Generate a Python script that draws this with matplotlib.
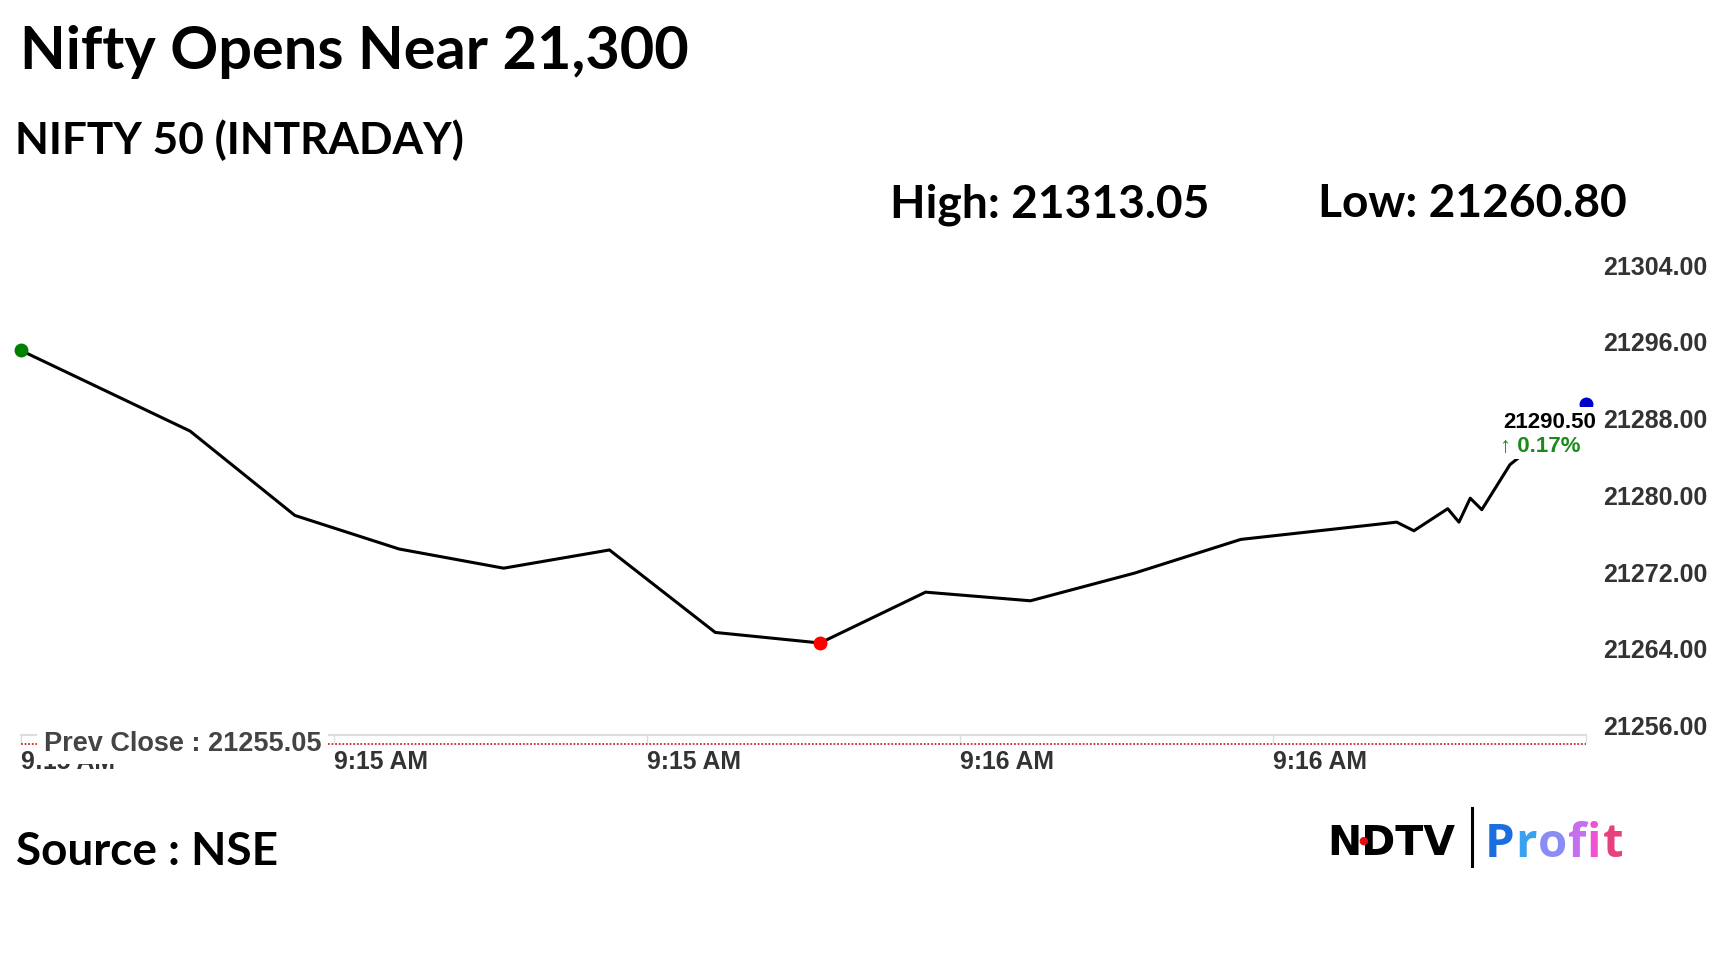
import matplotlib.pyplot as plt
from matplotlib.lines import Line2D

# intraday points (x in tick-interval units)
t = [0.0, 0.540, 0.875, 1.208, 1.542, 1.880, 2.218, 2.553, 2.890, 3.225,
     3.559, 3.897, 4.395, 4.450, 4.558, 4.594, 4.630, 4.667, 4.757, 5.0]
price = [21296.1, 21287.7, 21278.9, 21275.4, 21273.4, 21275.3, 21266.7, 21265.6,
         21270.9, 21270.0, 21272.9, 21276.4, 21278.2, 21277.3, 21279.6, 21278.2,
         21280.7, 21279.5, 21284.2, 21290.5]
prev_close = 21255.05
last_price = 21290.50
change_pct = 0.17
day_high = 21313.05
day_low = 21260.80

x_ticks = [0, 1, 2, 3, 4, 5]
x_labels = ['9:15 AM', '9:15 AM', '9:15 AM', '9:16 AM', '9:16 AM', '']
y_ticks = [21256, 21264, 21272, 21280, 21288, 21296, 21304]

plt.rcParams['font.family'] = ['Liberation Sans', 'DejaVu Sans']

fig = plt.figure(figsize=(17.28, 9.72), dpi=100)
fig.patch.set_facecolor('white')

# headings
head = dict(family=['Lato', 'DejaVu Sans'], fontweight='bold', color='black', va='baseline')
fig.text(0.0116, 0.929, 'Nifty Opens Near 21,300', fontsize=42.8, **head)
fig.text(0.0087, 0.8416, 'NIFTY 50 (INTRADAY)', fontsize=31.8, **head)
fig.text(0.515, 0.7767, f'High: {day_high:.2f}', fontsize=33.2, **head)
fig.text(0.7627, 0.7767, f'Low: {day_low:.2f}', fontsize=33.2, **head)
fig.text(0.0093, 0.110, 'Source : NSE', fontsize=33, **head)

ax = fig.add_axes([0.01215, 0.2270, 0.9057, 0.5101])
ax.set_xlim(0, 5)
ax.set_ylim(21254.3, 21306)
for s in ['top', 'left', 'right']:
    ax.spines[s].set_visible(False)
ax.spines['bottom'].set_position(('data', 21256))
ax.spines['bottom'].set_color('#dddddd')
ax.spines['bottom'].set_linewidth(1.5)

ax.axhline(prev_close, color='#cc2a2a', ls=(0, (1, 1)), lw=1.3, zorder=2)
ax.plot(t, price, color='black', lw=2.2, zorder=3)

lo = price.index(min(price))
ax.plot(t[0], price[0], 'o', color='#008000', ms=9, zorder=4, clip_on=False)
ax.plot(t[lo], price[lo], 'o', color='#ff0000', ms=9, zorder=4)
ax.plot(t[-1], price[-1], 'o', color='#0000cc', ms=9, zorder=4, clip_on=False)

# y axis on the right
ax.yaxis.tick_right()
ax.set_yticks(y_ticks, labels=[f'{v:.2f}' for v in y_ticks])
ax.tick_params(axis='y', length=0, pad=12, labelsize=18, labelcolor='#333333')
for lab in ax.get_yticklabels():
    lab.set_fontweight('bold')
    lab.set_va('baseline')

ax.set_xticks(x_ticks, labels=x_labels)
ax.tick_params(axis='x', length=6, width=1, color='#dddddd', pad=4.5,
               labelsize=17.8, labelcolor='#333333')
for lab in ax.get_xticklabels():
    lab.set_fontweight('bold')
    lab.set_ha('left')

ax.annotate(f'Prev Close : {prev_close:.2f}', xy=(0, prev_close), xytext=(23, 0),
            textcoords='offset pixels', ha='left', va='center', fontsize=19.5,
            fontweight='bold', color='#444444', zorder=6, annotation_clip=False,
            bbox=dict(boxstyle='square,pad=0.25', fc='white', ec='none'))

ax.annotate(f'{last_price:.2f}', xy=(t[-1], price[-1]), xytext=(10, -18),
            textcoords='offset pixels', ha='right', va='center', fontsize=16,
            fontweight='bold', color='black', zorder=6, annotation_clip=False,
            bbox=dict(boxstyle='square,pad=0.2', fc='white', ec='none'))
ax.annotate(f'\u2191 {change_pct:.2f}%', xy=(t[-1], price[-1]), xytext=(-86, -42),
            textcoords='offset pixels', ha='left', va='center', fontsize=16,
            fontweight='bold', color='#1a8a1a', zorder=6, annotation_clip=False,
            bbox=dict(boxstyle='square,pad=0.1', fc='white', ec='none'))

# NDTV | Profit logo
fig.text(0.7680, 0.1204, 'NDTV', family='DejaVu Sans', fontweight='bold',
         fontsize=29.5, color='black', va='baseline')
fig.text(0.7890, 0.1348, '\u25cf', family='DejaVu Sans', fontsize=8,
         color='#e01010', ha='center', va='center')
fig.add_artist(Line2D([0.8519, 0.8519], [1 - 808 / 972, 1 - 866 / 972],
                      color='black', lw=2.2))
profit_colors = ['#1a6fe0', '#3aa0f0', '#8a8cf5', '#c56ef0', '#f052d4', '#e8407e']
prev = fig.text(0.8590, 0.1183, 'P', family=['Open Sans', 'DejaVu Sans'],
                fontweight='bold', fontsize=34, color=profit_colors[0], va='baseline')
for ch, col in zip('rofit', profit_colors[1:]):
    prev = plt.annotate(ch, xy=(1, 0), xycoords=prev, xytext=(1, 0),
                        textcoords='offset pixels', ha='left', va='bottom',
                        family=['Open Sans', 'DejaVu Sans'], fontweight='bold',
                        fontsize=34, color=col)

fig.savefig('out.png', dpi=100, facecolor='white')
